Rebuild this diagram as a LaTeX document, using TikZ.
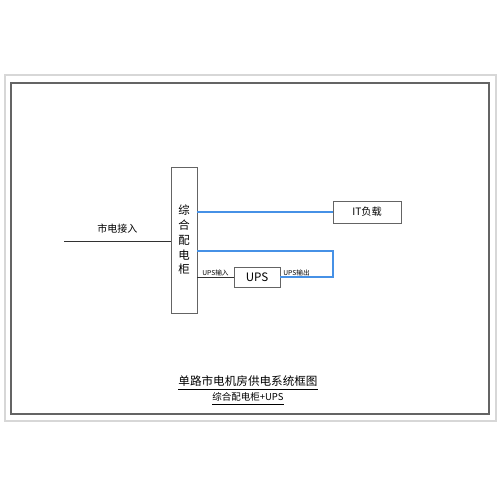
\documentclass[tikz,border=0pt]{standalone}
\usepackage{fontspec}
\setmainfont{Noto Sans CJK SC}
\usepackage{tikz}
\usetikzlibrary{positioning}
\definecolor{framegray}{RGB}{100,100,100}
\definecolor{lightframe}{RGB}{215,215,215}
\definecolor{feedblue}{RGB}{70,145,230}
\definecolor{wire}{RGB}{50,50,50}
\tikzstyle{unit} = [rectangle, draw=framegray, line width=0.5pt, fill=white, inner sep=0pt, align=center]
\tikzstyle{feed} = [line width=0.8pt, draw=feedblue]
\tikzstyle{line} = [line width=0.5pt, draw=wire]
\tikzstyle{tag} = [inner sep=0.5pt, font=\fontsize{3.8}{4}\selectfont]

\begin{document}
\begin{tikzpicture}[x=0.02cm, y=-0.02cm]
      \useasboundingbox (0, 0) rectangle (500, 500);
      \draw[draw = lightframe, line width = 0.6pt] (5, 75) rectangle (496, 421);
      \draw[draw = framegray, line width = 0.7pt] (11, 83) rectangle (489, 414);
      \node (cabinet) at (184, 240) [unit, minimum width = 0.52cm, minimum height = 2.92cm, font=\fontsize{6.5}{8.4}\selectfont]
                          {综\\合\\配\\电\\柜};
      \node (itload) at (367, 212) [unit, minimum width = 1.36cm, minimum height = 0.44cm, font=\fontsize{5.8}{7}\selectfont] {IT负载};
      \node (ups) at (257, 277) [unit, minimum width = 0.92cm, minimum height = 0.40cm, font=\fontsize{6.6}{8}\selectfont] {UPS};
      \coordinate (mains) at (64, 241);
      \coordinate (turn) at (333, 251);
      \coordinate (back) at (333, 277);
      \draw[line] (mains) -- (mains -| cabinet.west) node[midway, above=1pt, font=\fontsize{5.7}{7}\selectfont] {市电接入};
      \draw[feed] (cabinet.east |- itload) -- (itload.west);
      \draw[feed] (cabinet.east |- turn) -- (turn) -- (back) -- (ups.east);
      \draw[line] (cabinet.east |- ups) -- (ups.west) node[midway, above, tag] {UPS输入};
      \node[tag, above right = 0pt and 1pt of ups.east] (upsout) {UPS输出};
      \node (title) at (248, 383) [font=\fontsize{6.6}{8}\selectfont] {\underline{单路市电机房供电系统框图}};
      \node (subtitle) at (248, 399) [font=\fontsize{5.4}{7}\selectfont] {\underline{综合配电柜+UPS}};
    \end{tikzpicture}
\end{document}
